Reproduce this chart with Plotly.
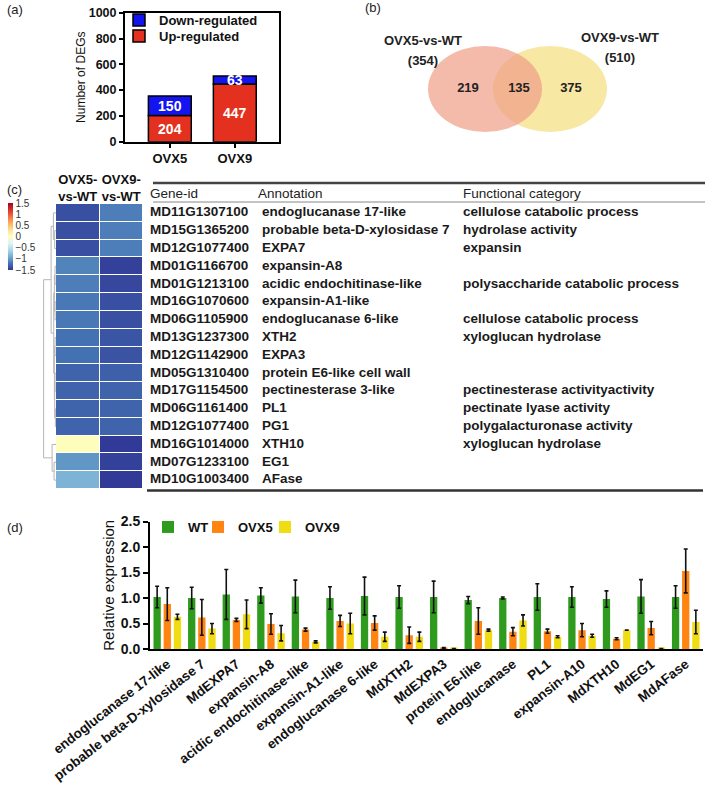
import plotly.graph_objects as go

W, H = 709, 786
def px(x): return x / W
def py(y): return 1 - y / H

FONT = "Liberation Sans, Arial, sans-serif"

# ---------------- data ----------------
# (a)
deg_groups = ["OVX5", "OVX9"]
deg_up = [204, 447]
deg_down = [150, 63]

# (b)
venn_only5, venn_both, venn_only9 = 219, 135, 375
venn_total5, venn_total9 = 354, 510

# (c)
hm_cols = ["OVX5-<br>vs-WT", "OVX9-<br>vs-WT"]
hm_ovx5 = [-1.38, -1.38, -1.38, -1.12, -1.15, -1.18, -1.18, -1.22, -1.22, -1.28, -1.28, -1.28, -1.28, 0.02, -1.02, -0.85]
hm_ovx9 = [-1.15, -1.15, -1.15, -1.45, -1.42, -1.38, -1.38, -1.35, -1.36, -1.3, -1.28, -1.28, -1.28, -1.48, -1.45, -1.48]
gene_ids = ["MD11G1307100", "MD15G1365200", "MD12G1077400", "MD01G1166700", "MD01G1213100",
            "MD16G1070600", "MD06G1105900", "MD13G1237300", "MD12G1142900", "MD05G1310400",
            "MD17G1154500", "MD06G1161400", "MD12G1077400", "MD16G1014000", "MD07G1233100",
            "MD10G1003400"]
annotations_txt = ["endoglucanase 17-like", "probable beta-D-xylosidase 7", "EXPA7", "expansin-A8",
                   "acidic endochitinase-like", "expansin-A1-like", "endoglucanase 6-like", "XTH2",
                   "EXPA3", "protein E6-like cell wall", "pectinesterase 3-like", "PL1", "PG1",
                   "XTH10", "EG1", "AFase"]
functions_txt = ["cellulose catabolic process", "hydrolase activity", "expansin", "",
                 "polysaccharide catabolic process", "", "cellulose catabolic process",
                 "xyloglucan hydrolase", "", "", "pectinesterase activityactivity",
                 "pectinate lyase activity", "polygalacturonase activity", "xyloglucan hydrolase", "", ""]
# dendrogram merges (child a, child b, height); leaves 0..15, merges numbered from 16
dendro_merges = [(1, 2, 0.2), (0, 16, 0.4), (3, 4, 0.15), (5, 6, 0.15), (18, 19, 0.25),
                 (7, 8, 0.15), (9, 10, 0.15), (11, 12, 0.1), (22, 23, 0.2), (21, 24, 0.25),
                 (20, 25, 0.35), (17, 26, 0.75), (14, 15, 0.3), (13, 28, 0.6), (27, 29, 1.9)]

# (d)
qpcr_genes = ["endoglucanase 17-like", "probable beta-D-xylosidase 7", "MdEXPA7", "expansin-A8",
              "acidic endochitinase-like", "expansin-A1-like", "endoglucanase 6-like", "MdXTH2",
              "MdEXPA3", "protein E6-like", "endoglucanase", "PL1", "expansin-A10", "MdXTH10",
              "MdEG1", "MdAFase"]
wt_val = [1.02, 1.0, 1.07, 1.05, 1.03, 1.0, 1.04, 1.02, 1.02, 0.96, 1.0, 1.02, 1.02, 0.98, 1.03, 1.02]
wt_err = [0.21, 0.21, 0.49, 0.15, 0.32, 0.22, 0.37, 0.22, 0.31, 0.07, 0.02, 0.26, 0.20, 0.16, 0.33, 0.22]
ovx5_val = [0.88, 0.62, 0.57, 0.49, 0.38, 0.55, 0.51, 0.27, 0.02, 0.55, 0.34, 0.35, 0.37, 0.20, 0.41, 1.53]
ovx5_err = [0.32, 0.35, 0.03, 0.20, 0.03, 0.11, 0.14, 0.16, 0.01, 0.26, 0.08, 0.04, 0.13, 0.02, 0.13, 0.43]
ovx9_val = [0.63, 0.40, 0.68, 0.31, 0.14, 0.50, 0.24, 0.24, 0.01, 0.37, 0.56, 0.24, 0.26, 0.37, 0.01, 0.53]
ovx9_err = [0.05, 0.10, 0.28, 0.15, 0.02, 0.20, 0.09, 0.09, 0.0, 0.02, 0.11, 0.02, 0.03, 0.0, 0.0, 0.23]

fig = go.Figure()

# ---------------- (a) stacked bars (via base) ----------------
bar_txt = dict(color="white", size=14, family=FONT, weight="bold")
fig.add_trace(go.Bar(x=[0, 1], y=deg_up, name="Up-regulated", marker=dict(color="#E4301E", line=dict(color="black", width=1.5)),
                     width=0.66, offsetgroup="deg", text=deg_up, textposition="inside", insidetextanchor="middle",
                     constraintext="none", textangle=0, textfont=bar_txt, xaxis="x", yaxis="y", legend="legend2"))
fig.add_trace(go.Bar(x=[0, 1], y=deg_down, base=deg_up, name="Down-regulated",
                     marker=dict(color="#1414F0", line=dict(color="black", width=1.5)),
                     width=0.66, offsetgroup="deg", text=deg_down, textposition="inside", insidetextanchor="middle",
                     constraintext="none", textangle=0, textfont=bar_txt, xaxis="x", yaxis="y", legend="legend"))

# ---------------- (b) venn ----------------
venn_u = 57.0
def vx(p): return (p - 517.5) / venn_u
def vy(p): return (89 - p) / venn_u
vfont = dict(size=13, family=FONT, color="#222", weight="bold")
fig.add_trace(go.Scatter(x=[vx(468), vx(519), vx(571)], y=[0, 0, 0], mode="text",
                         text=[str(venn_only5), str(venn_both), str(venn_only9)], textfont=vfont, cliponaxis=False,
                         xaxis="x2", yaxis="y2", showlegend=False, hoverinfo="skip"))
fig.add_trace(go.Scatter(x=[vx(423), vx(423), vx(620), vx(620)], y=[vy(42), vy(62), vy(39), vy(59)], mode="text",
                         text=["OVX5-vs-WT", f"({venn_total5})", "OVX9-vs-WT", f"({venn_total9})"],
                         textfont=vfont, cliponaxis=False,
                         xaxis="x2", yaxis="y2", showlegend=False, hoverinfo="skip"))

# ---------------- (c) heatmap ----------------
rows = list(range(len(gene_ids)))
z = [[a, b] for a, b in zip(hm_ovx5, hm_ovx9)]
cscale = [[0.0, "#313695"], [0.1, "#4575b4"], [0.2, "#74add1"], [0.3, "#abd9e9"], [0.4, "#e0f3f8"],
          [0.5, "#ffffbf"], [0.6, "#fee090"], [0.7, "#fdae61"], [0.8, "#f46d43"], [0.9, "#d73027"], [1.0, "#a50026"]]
fig.add_trace(go.Heatmap(z=z, x=hm_cols, y=rows, zmin=-1.5, zmax=1.5, colorscale=cscale, xgap=1, ygap=1,
                         xaxis="x3", yaxis="y3", hoverinfo="skip",
                         colorbar=dict(x=px(8), xanchor="left", thickness=5, lenmode="pixels", len=67,
                                       y=py(236.5), yanchor="middle", outlinewidth=0, ticks="",
                                       tickvals=[-1.5, -1, -0.5, 0, 0.5, 1, 1.5],
                                       ticktext=["\u22121.5", "\u22121", "\u22120.5", "0", "0.5", "1", "1.5"],
                                       tickfont=dict(size=10, family=FONT, color="#333"), xpad=0, ypad=0)))

# dendrogram
pos = {i: float(i) for i in rows}
hgt = {i: 0.0 for i in rows}
dx, dy = [], []
for k, (a, b, h) in enumerate(dendro_merges):
    nid = len(rows) + k
    dx += [hgt[a], h, h, hgt[b], None]
    dy += [pos[a], pos[a], pos[b], pos[b], None]
    pos[nid] = (pos[a] + pos[b]) / 2
    hgt[nid] = h
fig.add_trace(go.Scatter(x=dx, y=dy, mode="lines", line=dict(color="#b5b5b5", width=1),
                         xaxis="x4", yaxis="y4", showlegend=False, hoverinfo="skip"))

# table text
row_px = 285 / 16.0
tfont = dict(size=13.5, family=FONT, color="#1a1a1a", weight="bold")
for xcol, texts in [(150, gene_ids), (262, annotations_txt), (463, functions_txt)]:
    fig.add_trace(go.Scatter(x=[xcol] * len(rows), y=rows, text=texts, mode="text", textposition="middle right",
                             textfont=tfont, cliponaxis=False, xaxis="x5", yaxis="y5", showlegend=False, hoverinfo="skip"))
fig.add_trace(go.Scatter(x=[150, 258, 463], y=[-1, -1, -1], text=["Gene-id", "Annotation", "Functional category"],
                         mode="text", textposition="middle right", cliponaxis=False,
                         textfont=dict(size=13.5, family=FONT, color="#222"),
                         xaxis="x5", yaxis="y5", showlegend=False, hoverinfo="skip"))

# ---------------- (d) grouped bars ----------------
for name, vals, errs, col, lg in [("WT", wt_val, wt_err, "#2E9B1E", "legend3"),
                                  ("OVX5", ovx5_val, ovx5_err, "#FF8412", "legend4"),
                                  ("OVX9", ovx9_val, ovx9_err, "#F0DC12", "legend5")]:
    fig.add_trace(go.Bar(x=qpcr_genes, y=vals, name=name, marker=dict(color=col, line=dict(width=0)),
                         error_y=dict(type="data", array=errs, color="#111", thickness=1.6, width=2),
                         xaxis="x6", yaxis="y6", legend=lg))

# ---------------- layout ----------------
axis_black = dict(showline=True, linecolor="black", linewidth=2, showgrid=False, zeroline=False, automargin=False)
hidden = dict(visible=False, automargin=False, showgrid=False, zeroline=False)
tick_bold = dict(size=13, family=FONT, color="#111", weight="bold")

y_top_tab = -0.5 - (204 - 180) / row_px
y_bot_tab = 15.5 + (492 - 489) / row_px

shapes = [
    dict(type="circle", xref="x2", yref="y2", x0=0.57 - 1, x1=0.57 + 1, y0=-43 / venn_u, y1=43 / venn_u,
         fillcolor="#F7E8A4", line=dict(width=0), layer="below"),
    dict(type="circle", xref="x2", yref="y2", x0=-0.57 - 1, x1=-0.57 + 1, y0=-43 / venn_u, y1=43 / venn_u,
         fillcolor="rgba(240,158,135,0.70)", line=dict(width=0), layer="below"),
    dict(type="line", xref="x5", yref="y5", x0=153, x1=705, y0=-0.5 - 21 / row_px, y1=-0.5 - 21 / row_px,
         line=dict(color="#444", width=2.5)),
    dict(type="line", xref="x5", yref="y5", x0=153, x1=705, y0=-0.5 - 2 / row_px, y1=-0.5 - 2 / row_px,
         line=dict(color="#888", width=1)),
    dict(type="line", xref="x5", yref="y5", x0=147, x1=703, y0=15.5 + 1.5 / row_px, y1=15.5 + 1.5 / row_px,
         line=dict(color="#333", width=2.5)),
]

panel_labels = [("(a)", 5, 10), ("(b)", 363, 8), ("(c)", 5, 189), ("(d)", 5, 527)]
annots = [dict(text=t, x=px(x), y=py(y), xref="paper", yref="paper", xanchor="left", yanchor="middle",
               showarrow=False, font=dict(size=13, family=FONT, color="#222")) for t, x, y in panel_labels]

lgfont = dict(size=13, family=FONT, color="#111", weight="bold")
def one_legend(x, y):
    return dict(x=px(x), y=py(y), xanchor="left", yanchor="middle", bgcolor="rgba(0,0,0,0)",
                font=lgfont, itemwidth=30, orientation="h")

fig.update_layout(
    template="none",
    width=W, height=H, margin=dict(l=0, r=0, t=0, b=0, autoexpand=False), autosize=False,
    paper_bgcolor="white", plot_bgcolor="rgba(0,0,0,0)",
    font=dict(family=FONT, color="#111"),
    barmode="group", bargap=0.12, bargroupgap=0.28,
    shapes=shapes, annotations=annots,
    # (a)
    xaxis=dict(domain=[px(125), px(279)], range=[-0.69, 1.68], tickvals=[0, 1], ticktext=deg_groups,
               ticks="outside", ticklen=4, tickwidth=1.5, tickcolor="black", mirror=True, tickfont=tick_bold,
               anchor="y", **axis_black),
    yaxis=dict(domain=[py(141.7), py(12.7)], range=[0, 1000], dtick=200, ticks="outside", ticklen=4, tickwidth=1.5,
               tickcolor="black", mirror=True, tickfont=dict(size=12.5, family=FONT, color="#111", weight="bold"),
               title=dict(text="Number of DEGs", font=dict(size=12, family=FONT, color="#111"), standoff=0),
               anchor="x", **axis_black),
    # (b)
    xaxis2=dict(domain=[px(360), 1], range=[vx(360), vx(709)], anchor="y2", **hidden),
    yaxis2=dict(domain=[py(160), 1], range=[vy(160), vy(0)], anchor="x2", **hidden),
    # (c) heatmap
    xaxis3=dict(domain=[px(56), px(143)], side="top", showline=False, showgrid=False, zeroline=False, ticks="",
                tickangle=0, automargin=False, ticklabelstandoff=-1,
                tickfont=dict(size=13, family=FONT, color="#111", weight="bold"), anchor="y3"),
    yaxis3=dict(domain=[py(489), py(204)], range=[15.5, -0.5], anchor="x3", **hidden),
    xaxis4=dict(domain=[px(42), px(56)], range=[2.15, 0], anchor="y4", **hidden),
    yaxis4=dict(domain=[py(489), py(204)], range=[15.5, -0.5], anchor="x4", **hidden),
    xaxis5=dict(domain=[0, 1], range=[0, W], anchor="y5", **hidden),
    yaxis5=dict(domain=[py(492), py(180)], range=[y_bot_tab, y_top_tab], anchor="x5", **hidden),
    # (d)
    xaxis6=dict(domain=[px(150), px(703)], range=[-0.5, 15.5], tickangle=-38, ticks="",
                tickfont=dict(size=13.5, family=FONT, color="#111", weight="bold"),
                anchor="y6", **axis_black),
    yaxis6=dict(domain=[py(649), py(521.5)], range=[0, 2.5], dtick=0.5, tickformat=".1f", ticks="outside", ticklen=5,
                tickwidth=2, tickcolor="black", tickfont=dict(size=14, family=FONT, color="#111", weight="bold"),
                title=dict(text="Relative expression", font=dict(size=15, family=FONT, color="#111"), standoff=2),
                anchor="x6", **axis_black),
    legend=one_legend(119, 20),
    legend2=one_legend(119, 36),
    legend3=one_legend(148, 527),
    legend4=one_legend(198, 527),
    legend5=one_legend(265, 527),
)

fig.write_html("out.html", post_script="document.body.style.margin='0px';",
               config={"displayModeBar": False})
